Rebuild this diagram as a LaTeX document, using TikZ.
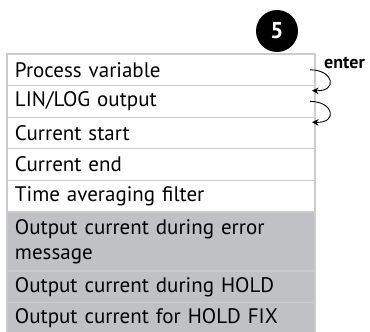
\documentclass[tikz,border=0pt]{standalone}
\usepackage{fontspec}
\setmainfont{PT Sans}
\usetikzlibrary{positioning,arrows.meta}

\definecolor{rowline}{RGB}{204,204,204}
\definecolor{rowgrey}{RGB}{192,193,196}

\tikzset{
  menurow/.style={draw=rowline, line width=1.3pt, fill=white, anchor=north west,
    outer sep=0pt, text width=292pt, inner xsep=8pt, inner ysep=0pt,
    minimum height=31.6pt, align=left, font=\fontsize{21}{25.5}\selectfont},
  greyrow/.style={menurow, fill=rowgrey},
  stepno/.style={circle, fill=black, text=white, minimum size=42pt, inner sep=0pt,
    font=\bfseries\fontsize{23}{23}\selectfont},
  looparrow/.style={-{Stealth[length=6.5pt,width=6.5pt]}, line width=0.9pt},
}

\begin{document}
\begin{tikzpicture}[x=1pt,y=-1pt]

% Fix the page size
\useasboundingbox (0,0) rectangle (370,332);

% Draw the step number
\node[stepno] (num) at (277,31) {5};

% Draw the menu rows
\node[menurow] (r1) at (7,54) {Process variable};
\node[menurow, below=0pt of r1] (r2) {LIN/LOG output};
\node[menurow, below=0pt of r2] (r3) {Current start};
\node[menurow, below=0pt of r3] (r4) {Current end};
\node[menurow, below=0pt of r4] (r5) {Time averaging filter};
\node[greyrow, below=0pt of r5, minimum height=59pt] (r6) {Output current during error\\message};
\node[greyrow, below=0pt of r6] (r7) {Output current during HOLD};
\node[greyrow, below=0pt of r7] (r8) {Output current for HOLD FIX};

% Draw the enter label
\node[anchor=base west, inner sep=0pt, font=\bfseries\fontsize{18}{18}\selectfont] (enter) at (324,68) {enter};

% Draw the enter arrows
\draw[looparrow] ([xshift=-5pt]r1.east) .. controls +(24,0) and +(26,1) .. ([xshift=-3pt,yshift=-5pt]r2.north east);
\draw[looparrow] ([xshift=-5pt]r2.east) .. controls +(24,0) and +(26,1) .. ([xshift=-3pt,yshift=-5pt]r3.north east);

\end{tikzpicture}
\end{document}
